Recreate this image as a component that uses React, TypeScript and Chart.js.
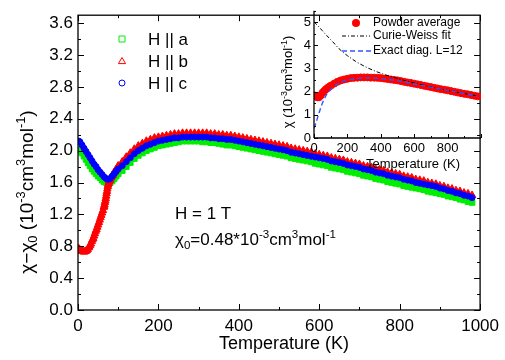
import React, { useEffect, useRef } from "react";
import { Chart, registerables } from "chart.js";

Chart.register(...registerables);

const FONT = '"Liberation Sans", Arial, Helvetica, sans-serif';

// ---------- main plot data ----------
const T_MAIN = [
  2, 5, 10, 15, 20, 25, 30, 35, 40, 45, 50, 55, 60, 65, 70, 75, 80, 85, 90, 95, 100,
  110, 120, 130, 140, 150, 160, 170, 180, 190, 200,
  210, 220, 230, 240, 250, 260, 270, 280, 290, 300,
  310, 320, 330, 340, 350, 360, 370, 380, 390, 400,
  410, 420, 430, 440, 450, 460, 470, 480, 490, 500,
  510, 520, 530, 540, 550, 560, 570, 580, 590, 600,
  610, 620, 630, 640, 650, 660, 670, 680, 690, 700,
  710, 720, 730, 740, 750, 760, 770, 780, 790, 800,
  810, 820, 830, 840, 850, 860, 870, 880, 890, 900,
  910, 920, 930, 940, 950, 960, 970, 980,
];

const CHI_A = [
  2.02, 2.0, 1.97, 1.93, 1.89, 1.85, 1.81, 1.77, 1.74, 1.71, 1.68, 1.66, 1.63, 1.61, 1.6, 1.59, 1.6, 1.62, 1.65, 1.68, 1.71,
  1.75, 1.8, 1.85, 1.9, 1.94, 1.97, 2.0, 2.02, 2.04, 2.06,
  2.07, 2.08, 2.09, 2.1, 2.11, 2.12, 2.12, 2.12, 2.12, 2.12,
  2.11, 2.11, 2.1, 2.1, 2.09, 2.08, 2.07, 2.07, 2.06, 2.05,
  2.04, 2.03, 2.02, 2.01, 2.0, 1.99, 1.98, 1.97, 1.96, 1.95,
  1.94, 1.93, 1.91, 1.9, 1.89, 1.88, 1.87, 1.86, 1.84, 1.83,
  1.82, 1.81, 1.79, 1.78, 1.77, 1.76, 1.74, 1.73, 1.72, 1.71,
  1.69, 1.68, 1.67, 1.65, 1.64, 1.63, 1.61, 1.6, 1.59, 1.58,
  1.56, 1.55, 1.54, 1.53, 1.52, 1.51, 1.49, 1.48, 1.47, 1.46,
  1.45, 1.43, 1.42, 1.41, 1.39, 1.38, 1.36, 1.35,
];

// H || b has its own, denser temperature grid where it rises steeply
const T_B = [
  2, 4, 6, 8, 10, 12, 14, 16, 18, 20, 22, 24, 26, 28, 30, 32, 34, 36, 38, 40,
  42, 44, 46, 48, 50, 52, 54, 56, 58, 60, 62, 64, 65, 66, 67, 68, 69, 70, 71, 72,
  73, 74, 75, 76, 77, 78, 79, 80, 82, 84, 86, 88, 90, 92, 94, 96, 98, 100,
  110, 120, 130, 140, 150, 160, 170, 180, 190, 200,
  210, 220, 230, 240, 250, 260, 270, 280, 290, 300,
  310, 320, 330, 340, 350, 360, 370, 380, 390, 400,
  410, 420, 430, 440, 450, 460, 470, 480, 490, 500,
  510, 520, 530, 540, 550, 560, 570, 580, 590, 600,
  610, 620, 630, 640, 650, 660, 670, 680, 690, 700,
  710, 720, 730, 740, 750, 760, 770, 780, 790, 800,
  810, 820, 830, 840, 850, 860, 870, 880, 890, 900,
  910, 920, 930, 940, 950, 960, 970, 980,
];

const CHI_B = [
  0.77, 0.76, 0.75, 0.745, 0.74, 0.735, 0.73, 0.73, 0.735, 0.74, 0.75, 0.76, 0.78, 0.79, 0.81, 0.83, 0.86, 0.88, 0.9, 0.93,
  0.96, 0.99, 1.01, 1.04, 1.07, 1.1, 1.13, 1.16, 1.19, 1.22, 1.25, 1.29, 1.3, 1.32, 1.35, 1.37, 1.4, 1.43, 1.46, 1.49,
  1.52, 1.55, 1.57, 1.59, 1.61, 1.62, 1.63, 1.64, 1.66, 1.68, 1.69, 1.71, 1.73, 1.74, 1.76, 1.77, 1.79, 1.81,
  1.86, 1.92, 1.97, 2.02, 2.06, 2.09, 2.12, 2.14, 2.16, 2.17,
  2.18, 2.19, 2.2, 2.21, 2.21, 2.22, 2.22, 2.22, 2.22, 2.22,
  2.22, 2.22, 2.21, 2.21, 2.2, 2.2, 2.19, 2.19, 2.18, 2.17,
  2.16, 2.15, 2.14, 2.13, 2.12, 2.11, 2.1, 2.09, 2.08, 2.07,
  2.06, 2.05, 2.03, 2.02, 2.01, 2.0, 1.99, 1.98, 1.96, 1.95,
  1.94, 1.93, 1.91, 1.9, 1.89, 1.88, 1.86, 1.85, 1.84, 1.83,
  1.81, 1.8, 1.79, 1.77, 1.76, 1.75, 1.73, 1.72, 1.71, 1.7,
  1.68, 1.67, 1.66, 1.64, 1.63, 1.62, 1.6, 1.59, 1.58, 1.56,
  1.55, 1.53, 1.52, 1.5, 1.49, 1.47, 1.46, 1.44,
];

const CHI_C = [
  2.12, 2.11, 2.07, 2.03, 1.99, 1.95, 1.91, 1.87, 1.83, 1.8, 1.76, 1.73, 1.7, 1.67, 1.65, 1.64, 1.65, 1.68, 1.71, 1.74, 1.77,
  1.81, 1.86, 1.91, 1.96, 2.0, 2.03, 2.06, 2.08, 2.1, 2.12,
  2.13, 2.14, 2.15, 2.16, 2.16, 2.17, 2.17, 2.17, 2.17, 2.17,
  2.17, 2.17, 2.16, 2.16, 2.15, 2.15, 2.14, 2.14, 2.13, 2.12,
  2.11, 2.1, 2.09, 2.08, 2.07, 2.06, 2.05, 2.04, 2.03, 2.02,
  2.01, 2.0, 1.98, 1.97, 1.96, 1.95, 1.94, 1.93, 1.92, 1.91,
  1.9, 1.89, 1.87, 1.86, 1.85, 1.84, 1.82, 1.81, 1.8, 1.79,
  1.77, 1.76, 1.75, 1.73, 1.72, 1.71, 1.69, 1.68, 1.67, 1.66,
  1.64, 1.63, 1.62, 1.6, 1.59, 1.58, 1.57, 1.56, 1.55, 1.53,
  1.52, 1.5, 1.49, 1.47, 1.46, 1.44, 1.43, 1.41,
];

const MAIN_LEGEND = ["H || a", "H || b", "H || c"];

// ---------- inset data ----------
const T_POWDER = [
  2, 10, 20, 30, 40, 50, 60, 70, 80, 90, 100,
  120, 140, 160, 180, 200, 220, 240, 260, 280, 300,
  320, 340, 360, 380, 400, 420, 440, 460, 480, 500,
  520, 540, 560, 580, 600, 620, 640, 660, 680, 700,
  720, 740, 760, 780, 800, 820, 840, 860, 880, 900,
  920, 940, 960, 980,
];
const CHI_POWDER = [
  1.84, 1.8, 1.76, 1.76, 1.84, 1.95, 2.03, 2.1, 2.16, 2.21, 2.26,
  2.35, 2.43, 2.49, 2.53, 2.56, 2.59, 2.6, 2.61, 2.62, 2.62,
  2.62, 2.61, 2.61, 2.6, 2.59, 2.57, 2.55, 2.53, 2.51, 2.49,
  2.46, 2.43, 2.4, 2.38, 2.35, 2.32, 2.29, 2.26, 2.23, 2.2,
  2.17, 2.14, 2.11, 2.09, 2.06, 2.03, 2.0, 1.97, 1.94, 1.91,
  1.89, 1.86, 1.83, 1.8,
];

const T_CW = [0, 25, 50, 75, 100, 125, 150, 175, 200, 250, 300, 350, 400, 450, 500, 550, 600, 650, 700, 800, 900, 980];
const CHI_CW = [5.02, 4.84, 4.64, 4.44, 4.25, 4.06, 3.86, 3.7, 3.56, 3.31, 3.11, 2.94, 2.8, 2.68, 2.58, 2.47, 2.38, 2.29, 2.21, 2.06, 1.92, 1.82];

const T_ED = [0, 10, 20, 30, 40, 50, 60, 70, 80, 100, 120, 140, 160, 180, 200, 240, 280, 320, 360, 400, 500, 600, 700, 800, 900, 980];
const CHI_ED = [0.42, 0.62, 0.85, 1.08, 1.3, 1.5, 1.67, 1.81, 1.93, 2.1, 2.23, 2.33, 2.41, 2.47, 2.51, 2.56, 2.59, 2.6, 2.59, 2.57, 2.48, 2.34, 2.2, 2.06, 1.92, 1.8];

const INSET_LEGEND = ["Powder average", "Curie-Weiss fit", "Exact diag. L=12"];

const GREEN = "#00ee00";
const RED = "#ff0000";
const BLUE = "#0000ff";
const DASH_BLUE = "#3355ff";

type Part = [string, "n" | "sup" | "sub"];
const SMALL = 0.68;

function richWidth(ctx: CanvasRenderingContext2D, parts: Part[], size: number) {
  let w = 0;
  for (const [t, k] of parts) {
    ctx.font = `${k === "n" ? size : size * SMALL}px ${FONT}`;
    w += ctx.measureText(t).width;
  }
  return w;
}

function drawRich(ctx: CanvasRenderingContext2D, parts: Part[], x: number, y: number, size: number) {
  let cx = x;
  ctx.textAlign = "left";
  ctx.textBaseline = "alphabetic";
  for (const [t, k] of parts) {
    const s = k === "n" ? size : size * SMALL;
    ctx.font = `${s}px ${FONT}`;
    const dy = k === "sup" ? -size * 0.42 : k === "sub" ? size * 0.22 : 0;
    ctx.fillText(t, cx, y + dy);
    cx += ctx.measureText(t).width;
  }
}

function seg(ctx: CanvasRenderingContext2D, x1: number, y1: number, x2: number, y2: number) {
  ctx.beginPath();
  ctx.moveTo(x1, y1);
  ctx.lineTo(x2, y2);
  ctx.stroke();
}

const mainDecor = {
  id: "mainDecor",
  afterDraw(chart: any) {
    const { ctx, chartArea: a, scales } = chart;
    const x = scales.x;
    const y = scales.y;
    ctx.save();
    ctx.strokeStyle = "#000";
    ctx.fillStyle = "#000";
    ctx.lineWidth = 1.3;
    ctx.strokeRect(a.left, a.top, a.right - a.left, a.bottom - a.top);
    ctx.lineWidth = 1;
    for (let v = 0; v <= 1000; v += 100) {
      const px = Math.round(x.getPixelForValue(v)) + 0.5;
      const len = v % 200 === 0 ? 6 : 3;
      seg(ctx, px, a.bottom, px, a.bottom - len);
      seg(ctx, px, a.top, px, a.top + len);
    }
    for (let k = 0; k <= 18; k++) {
      const py = Math.round(y.getPixelForValue(k * 0.2)) + 0.5;
      const len = k % 2 === 0 ? 6 : 3;
      seg(ctx, a.left, py, a.left + len, py);
      seg(ctx, a.right, py, a.right - len, py);
    }
    // legend
    const rows = [39, 61, 83];
    const cols = [GREEN, RED, BLUE];
    const mx = 122;
    ctx.lineWidth = 1;
    rows.forEach((ry, i) => {
      ctx.strokeStyle = cols[i];
      ctx.beginPath();
      if (i === 0) ctx.rect(mx - 3, ry - 3, 6, 6);
      else if (i === 1) {
        ctx.moveTo(mx, ry - 3.5);
        ctx.lineTo(mx + 3.6, ry + 2.6);
        ctx.lineTo(mx - 3.6, ry + 2.6);
        ctx.closePath();
      } else ctx.arc(mx, ry, 3, 0, Math.PI * 2);
      ctx.stroke();
      ctx.fillStyle = "#000";
      ctx.font = `17px ${FONT}`;
      ctx.textAlign = "left";
      ctx.textBaseline = "middle";
      ctx.fillText(MAIN_LEGEND[i], 148, ry + 1);
    });
    // annotations
    ctx.fillStyle = "#000";
    ctx.font = `17px ${FONT}`;
    ctx.textAlign = "left";
    ctx.textBaseline = "middle";
    ctx.fillText("H = 1 T", 175, 214);
    drawRich(
      ctx,
      [["χ", "n"], ["0", "sub"], ["=0.48*10", "n"], ["-3", "sup"], ["cm", "n"], ["3", "sup"], ["mol", "n"], ["-1", "sup"]],
      175,
      245,
      17
    );
    // x title
    ctx.font = `18px ${FONT}`;
    ctx.textAlign = "center";
    ctx.textBaseline = "middle";
    ctx.fillText("Temperature (K)", 284, 344);
    // y title
    const yParts: Part[] = [["χ−χ", "n"], ["0", "sub"], [" (10", "n"], ["-3", "sup"], ["cm", "n"], ["3", "sup"], ["mol", "n"], ["-1", "sup"], [")", "n"]];
    const w = richWidth(ctx, yParts, 19);
    ctx.save();
    ctx.translate(33, 192);
    ctx.rotate(-Math.PI / 2);
    drawRich(ctx, yParts, -w / 2, 0, 19);
    ctx.restore();
    ctx.restore();
  },
};

const insetDecor = {
  id: "insetDecor",
  afterDraw(chart: any) {
    const { ctx, chartArea: a, scales } = chart;
    const x = scales.x;
    const y = scales.y;
    ctx.save();
    ctx.strokeStyle = "#000";
    ctx.lineWidth = 1.3;
    seg(ctx, a.left, a.top, a.left, a.bottom);
    seg(ctx, a.left, a.bottom, a.right, a.bottom);
    ctx.lineWidth = 1;
    for (let v = 0; v <= 1000; v += 100) {
      const px = Math.round(x.getPixelForValue(v)) + 0.5;
      const len = v % 200 === 0 ? 4 : 2;
      seg(ctx, px, a.bottom, px, a.bottom - len);
    }
    for (let k = 0; k <= 11; k++) {
      const py = Math.round(y.getPixelForValue(k * 0.5)) + 0.5;
      const len = k % 2 === 0 ? 4 : 2;
      seg(ctx, a.left, py, a.left + len, py);
    }
    // legend
    ctx.fillStyle = RED;
    ctx.beginPath();
    ctx.arc(356, 23, 4, 0, Math.PI * 2);
    ctx.fill();
    ctx.strokeStyle = "#000";
    ctx.lineWidth = 1;
    ctx.setLineDash([4, 2, 1, 2]);
    seg(ctx, 342, 36, 370, 36);
    ctx.strokeStyle = DASH_BLUE;
    ctx.lineWidth = 1.4;
    ctx.setLineDash([5, 3]);
    seg(ctx, 342, 51, 371, 51);
    ctx.setLineDash([]);
    ctx.fillStyle = "#000";
    ctx.font = `12px ${FONT}`;
    ctx.textAlign = "left";
    ctx.textBaseline = "middle";
    [23, 36, 51].forEach((ry, i) => ctx.fillText(INSET_LEGEND[i], 373, ry));
    // x title
    ctx.font = `13px ${FONT}`;
    ctx.textAlign = "center";
    ctx.fillText("Temperature (K)", 413, 164);
    // y title
    const yParts: Part[] = [["χ (10", "n"], ["-3", "sup"], ["cm", "n"], ["3", "sup"], ["mol", "n"], ["-1", "sup"], [")", "n"]];
    const w = richWidth(ctx, yParts, 13);
    ctx.save();
    ctx.translate(292, 82);
    ctx.rotate(-Math.PI / 2);
    drawRich(ctx, yParts, -w / 2, 0, 13);
    ctx.restore();
    ctx.restore();
  },
};

function pts(xs: number[], ys: number[]) {
  return xs.map((t, i) => ({ x: t, y: ys[i] }));
}

export default function App() {
  const mainRef = useRef<HTMLCanvasElement>(null);
  const insetRef = useRef<HTMLCanvasElement>(null);

  useEffect(() => {
    const tickFont = { family: FONT, size: 17 };
    const main = new Chart(mainRef.current as HTMLCanvasElement, {
      type: "scatter",
      data: {
        datasets: [
          {
            label: MAIN_LEGEND[2],
            data: pts(T_MAIN, CHI_C),
            pointStyle: "circle",
            pointRadius: 3,
            borderWidth: 1,
            borderColor: BLUE,
            backgroundColor: BLUE,
            order: 1,
          },
          {
            label: MAIN_LEGEND[1],
            data: pts(T_B, CHI_B),
            pointStyle: "triangle",
            pointRadius: 4.3,
            borderWidth: 1,
            borderColor: RED,
            backgroundColor: RED,
            order: 2,
          },
          {
            label: MAIN_LEGEND[0],
            data: pts(T_MAIN, CHI_A),
            pointStyle: "rect",
            pointRadius: 4,
            borderWidth: 1,
            borderColor: GREEN,
            backgroundColor: GREEN,
            order: 3,
          },
        ],
      },
      options: {
        responsive: false,
        maintainAspectRatio: false,
        animation: false,
        devicePixelRatio: 1,
        events: [],
        layout: { padding: { left: 0, top: 10, right: 24, bottom: 0 } },
        plugins: { legend: { display: false }, tooltip: { enabled: false } },
        scales: {
          x: {
            type: "linear",
            min: 0,
            max: 1000,
            grid: { display: false, drawTicks: false },
            border: { display: false },
            ticks: {
              stepSize: 200,
              font: tickFont,
              color: "#000",
              padding: 6,
              maxRotation: 0,
              autoSkip: false,
              includeBounds: false,
              callback: (v: any) => String(v),
            },
            afterFit: (s: any) => {
              s.height = 50;
            },
          },
          y: {
            type: "linear",
            min: 0,
            max: 3.7,
            grid: { display: false, drawTicks: false },
            border: { display: false },
            ticks: {
              stepSize: 0.4,
              font: tickFont,
              color: "#000",
              padding: 5,
              autoSkip: false,
              includeBounds: false,
              callback: (v: any) => Number(v).toFixed(1),
            },
            afterFit: (s: any) => {
              s.width = 78;
            },
          },
        },
      },
      plugins: [mainDecor],
    } as any);

    const insetTick = { family: FONT, size: 13 };
    const inset = new Chart(insetRef.current as HTMLCanvasElement, {
      type: "scatter",
      data: {
        datasets: [
          {
            label: INSET_LEGEND[2],
            data: pts(T_ED, CHI_ED),
            showLine: true,
            pointRadius: 0,
            borderColor: DASH_BLUE,
            borderWidth: 1.4,
            borderDash: [5, 3],
            cubicInterpolationMode: "monotone",
            order: 1,
          },
          {
            label: INSET_LEGEND[1],
            data: pts(T_CW, CHI_CW),
            showLine: true,
            pointRadius: 0,
            borderColor: "#000",
            borderWidth: 1,
            borderDash: [4, 2, 1, 2],
            cubicInterpolationMode: "monotone",
            order: 2,
          },
          {
            label: INSET_LEGEND[0],
            data: pts(T_POWDER, CHI_POWDER),
            pointStyle: "circle",
            pointRadius: 3.5,
            borderWidth: 1,
            borderColor: RED,
            backgroundColor: RED,
            order: 3,
          },
        ],
      },
      options: {
        responsive: false,
        maintainAspectRatio: false,
        animation: false,
        devicePixelRatio: 1,
        events: [],
        layout: { padding: { left: 270, top: 10, right: 24, bottom: 185 } },
        plugins: { legend: { display: false }, tooltip: { enabled: false } },
        scales: {
          x: {
            type: "linear",
            min: 0,
            max: 1000,
            grid: { display: false, drawTicks: false },
            border: { display: false },
            ticks: {
              stepSize: 200,
              font: insetTick,
              color: "#000",
              padding: 3,
              maxRotation: 0,
              autoSkip: false,
              includeBounds: false,
              callback: (v: any) => (Number(v) >= 1000 ? "" : String(v)),
            },
            afterFit: (s: any) => {
              s.height = 37;
            },
          },
          y: {
            type: "linear",
            min: 0,
            max: 5.5,
            grid: { display: false, drawTicks: false },
            border: { display: false },
            ticks: { stepSize: 1, font: insetTick, color: "#000", padding: 3, autoSkip: false, includeBounds: false },
            afterFit: (s: any) => {
              s.width = 44;
            },
          },
        },
      },
      plugins: [insetDecor],
    } as any);

    return () => {
      main.destroy();
      inset.destroy();
    };
  }, []);

  const cs: React.CSSProperties = { position: "absolute", left: 0, top: 0, width: 505, height: 360 };
  return (
    <div style={{ position: "absolute", left: 0, top: 0, width: 505, height: 360, background: "#fff" }}>
      <canvas ref={mainRef} width={505} height={360} style={cs} />
      <canvas ref={insetRef} width={505} height={360} style={cs} />
    </div>
  );
}
